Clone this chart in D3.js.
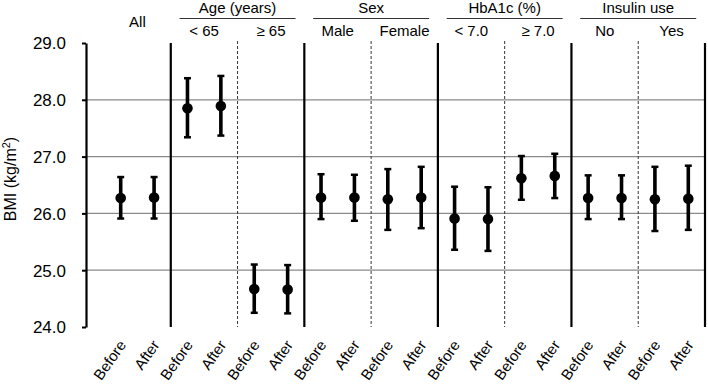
<!DOCTYPE html>
<html>
<head>
<meta charset="utf-8">
<script src="https://cdn.jsdelivr.net/npm/d3@7"></script>
<style>
  html, body { margin: 0; padding: 0; background: #fff; }
  svg { display: block; font-family: "Liberation Sans", Arial, sans-serif; }
</style>
</head>
<body>
<svg id="chart" width="708" height="384"></svg>
<script>
// ---- data ----
const groups = ["All", "Age (years)", "Sex", "HbA1c (%)", "Insulin use"];
const groupSubgroups = [[""], ["< 65", "≥ 65"], ["Male", "Female"], ["< 7.0", "≥ 7.0"], ["No", "Yes"]];
const timepoints = ["Before", "After"];
const means = [26.27, 26.28, 27.85, 27.89, 24.67, 24.66, 26.28, 26.28, 26.25, 26.28, 25.91, 25.90, 26.62, 26.66, 26.27, 26.27, 26.25, 26.26];
const upper = [26.64, 26.64, 28.38, 28.42, 25.10, 25.09, 26.69, 26.68, 26.78, 26.82, 26.47, 26.46, 27.01, 27.05, 26.67, 26.67, 26.82, 26.84];
const lower = [25.91, 25.91, 27.34, 27.37, 24.25, 24.24, 25.90, 25.87, 25.71, 25.74, 25.36, 25.34, 26.24, 26.27, 25.90, 25.90, 25.69, 25.71];
const yTicks = [24, 25, 26, 27, 28, 29];
const yLabel = "BMI (kg/m";

// ---- layout ----
const svg = d3.select("#chart");
const axisX = 86, plotRight = 705, plotTop = 43, plotBottom = 327;

// build categories
const cats = [];
groups.forEach((g, gi) => {
  groupSubgroups[gi].forEach((s, si) => {
    timepoints.forEach(t => cats.push({ group: gi, sub: si, sg: s, t: t }));
  });
});
cats.forEach((c, i) => { c.mean = means[i]; c.hi = upper[i]; c.lo = lower[i]; c.i = i; });

const x = d3.scaleBand().domain(d3.range(cats.length)).range([104, plotRight]).paddingInner(0).paddingOuter(0);
const y = d3.scaleLinear().domain([24, 29]).range([plotBottom, plotTop]);

// gridlines
svg.append("g").selectAll("line").data(yTicks.filter(t => t > 24 && t < 29)).join("line")
  .attr("x1", axisX).attr("x2", plotRight)
  .attr("y1", d => y(d)).attr("y2", d => y(d))
  .attr("stroke", "#8a8a8a").attr("stroke-width", 1.2);

// y axis
const yAxis = d3.axisLeft(y).tickValues(yTicks).tickFormat(d3.format(".1f")).tickSize(4).tickSizeOuter(0);
const ya = svg.append("g").attr("transform", `translate(${axisX},0)`).call(yAxis);
ya.select(".domain").attr("stroke", "#000").attr("stroke-width", 2.2);
ya.selectAll(".tick line").attr("stroke", "#000").attr("stroke-width", 2);
ya.selectAll(".tick text").attr("font-size", 17).attr("fill", "#000").attr("x", -20).attr("dy", "0.35em")
  .attr("font-family", "Liberation Sans, Arial, sans-serif");

// y label
const yl = svg.append("text").attr("transform", `translate(16,${(plotTop + plotBottom) / 2 - 6}) rotate(-90)`)
  .attr("text-anchor", "middle").attr("font-size", 16).attr("fill", "#000");
yl.append("tspan").text(yLabel);
yl.append("tspan").text("2").attr("font-size", 11).attr("dy", -6);
yl.append("tspan").text(")").attr("dy", 6);

// separators
const boundaries = [];
cats.forEach((c, i) => {
  if (i === 0) return;
  const prev = cats[i - 1];
  if (prev.group !== c.group) boundaries.push({ pos: x(i), type: "solid" });
  else if (prev.sub !== c.sub) boundaries.push({ pos: x(i), type: "dash" });
});
boundaries.push({ pos: plotRight, type: "solid" });

svg.append("g").selectAll("line").data(boundaries).join("line")
  .attr("x1", d => d.pos).attr("x2", d => d.pos)
  .attr("y1", d => d.type === "solid" ? plotTop : plotTop - 2)
  .attr("y2", plotBottom)
  .attr("stroke", d => d.type === "solid" ? "#000" : "#333")
  .attr("stroke-width", d => d.type === "solid" ? 2.2 : 1)
  .attr("stroke-dasharray", d => d.type === "solid" ? null : "3,2");

// headers
const groupSpan = gi => {
  const idx = cats.filter(c => c.group === gi).map(c => c.i);
  return [x(idx[0]), x(idx[idx.length - 1]) + x.bandwidth()];
};
const subSpan = (gi, si) => {
  const idx = cats.filter(c => c.group === gi && c.sub === si).map(c => c.i);
  return [x(idx[0]), x(idx[idx.length - 1]) + x.bandwidth()];
};
groups.forEach((g, gi) => {
  const [a, b] = groupSpan(gi);
  const cx = (a + b) / 2;
  if (groupSubgroups[gi].length === 1) {
    svg.append("text").attr("x", cx).attr("y", 27).attr("text-anchor", "middle")
      .attr("font-size", 15).attr("fill", "#000").text(g);
  } else {
    svg.append("text").attr("x", cx).attr("y", 13).attr("text-anchor", "middle")
      .attr("font-size", 15).attr("fill", "#000").text(g);
    svg.append("line").attr("x1", cx - 58).attr("x2", cx + 58).attr("y1", 18.5).attr("y2", 18.5)
      .attr("stroke", "#333").attr("stroke-width", 1.2);
    groupSubgroups[gi].forEach((s, si) => {
      const [sa, sb] = subSpan(gi, si);
      svg.append("text").attr("x", (sa + sb) / 2).attr("y", 36).attr("text-anchor", "middle")
        .attr("font-size", 15).attr("fill", "#000").text(s);
    });
  }
});

// x labels
svg.append("g").selectAll("text").data(cats).join("text")
  .attr("transform", d => `translate(${x(d.i) + x.bandwidth() / 2 + 6},345) rotate(-55)`)
  .attr("text-anchor", "end").attr("font-size", 15).attr("fill", "#000")
  .text(d => d.t);

// error bars
const eb = svg.append("g").selectAll("g").data(cats).join("g");
eb.append("line")
  .attr("x1", d => x(d.i) + x.bandwidth() / 2).attr("x2", d => x(d.i) + x.bandwidth() / 2)
  .attr("y1", d => y(d.hi)).attr("y2", d => y(d.lo))
  .attr("stroke", "#000").attr("stroke-width", 3.6);
[["hi"], ["lo"]].forEach(([k]) => {
  eb.append("line")
    .attr("x1", d => x(d.i) + x.bandwidth() / 2 - 3.5).attr("x2", d => x(d.i) + x.bandwidth() / 2 + 3.5)
    .attr("y1", d => y(d[k])).attr("y2", d => y(d[k]))
    .attr("stroke", "#000").attr("stroke-width", 2.5);
});
eb.append("circle")
  .attr("cx", d => x(d.i) + x.bandwidth() / 2).attr("cy", d => y(d.mean)).attr("r", 5.3)
  .attr("fill", "#000");
</script>
</body>
</html>
